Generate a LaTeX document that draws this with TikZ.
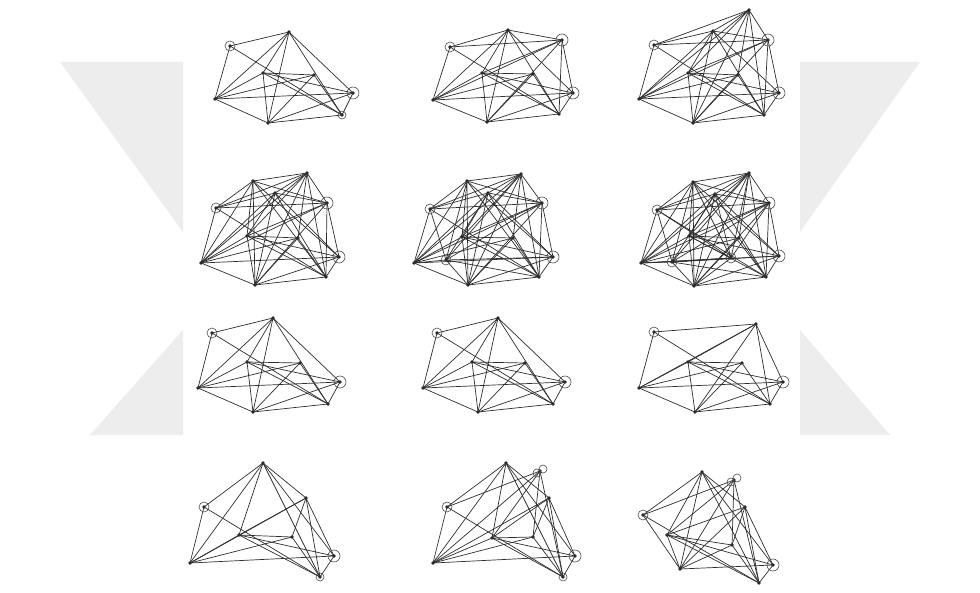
\documentclass[tikz,border=0pt]{standalone}
\begin{document}
\newcommand\EdgBase{A/B,A/F,A/H,B/F,B/C,B/G,B/E,B/H,C/D,C/E,C/G,C/H,F/C,F/D,F/E,F/G,G/D,G/E,G/H,E/H,D/H}
\newcommand\EdgP{A/P,B/P,P/F,P/G,P/E,P/H,P/C}
\newcommand\EdgJ{J/A,J/B,J/P,J/C,J/F,J/G,J/D,J/H}
\newcommand\EdgL{L/A,L/J,L/P,L/F,L/G,L/E,L/H,L/C}
\newcommand\EdgM{M/A,M/B,M/J,M/E,M/P,M/F,M/H,M/G,M/L}
\newcommand\EdgN{N/A,N/B,N/J,N/C,N/F,N/G,N/P,N/M,N/L}
\newcommand\EdgX{X/C,X/F,X/D,X/H,X/A}
\newcommand\drawedges[2]{\foreach \u/\v in #2 {\draw[edge] (#1\u.center) -- (#1\v.center);}}
\begin{tikzpicture}[x=1pt,y=-1pt,
  dot/.style={circle,fill=black!85,inner sep=0pt,minimum size=3.6pt},
  edge/.style={black!82,line width=0.7pt},
  ring/.style={black!70,line width=0.6pt}]
\useasboundingbox (0,0) rectangle (980,593);
\fill[white] (0,0) rectangle (980,593);
% watermark
\begin{scope}
\clip (0,0) rectangle (183,593) (800,0) rectangle (980,593);
\fill[black!7] (60,62) -- (183,62) -- (183,232) -- cycle;
\fill[black!7] (90,435) -- (183,435) -- (183,330) -- cycle;
\fill[black!7] (920,62) -- (800,62) -- (800,232) -- cycle;
\fill[black!7] (890,435) -- (800,435) -- (800,330) -- cycle;
\end{scope}
% ---- panel 1
\foreach \n/\x/\y in {A/230/46,B/289/32,C/263/73,D/314/75,E/353/93,F/215/99,G/268/123,H/342/115}
  \node[dot] (a\n) at (\x,\y) {};
\drawedges{a}{\EdgBase}
\foreach \n/\r in {A/5,E/6,H/4} \draw[ring] (a\n) circle (\r);
% ---- panel 2
\foreach \n/\x/\y in {A/450/47,B/508/30,P/562/40,C/482/73,D/533/74,E/573/93,F/433/100,G/487/122,H/559/114}
  \node[dot] (b\n) at (\x,\y) {};
\drawedges{b}{\EdgBase}\drawedges{b}{\EdgP}
\foreach \n/\r in {A/5,P/6,E/6} \draw[ring] (b\n) circle (\r);
% ---- panel 3
\foreach \n/\x/\y in {J/749/10,B/713/31,A/654/45,P/768/40,C/688/73,D/738/75,E/779/93,F/639/99,G/693/123,H/764/115}
  \node[dot] (c\n) at (\x,\y) {};
\drawedges{c}{\EdgBase}\drawedges{c}{\EdgP}\drawedges{c}{\EdgJ}
\foreach \n/\r in {A/5,P/6,E/6} \draw[ring] (c\n) circle (\r);
% ---- panel 4
\foreach \n/\x/\y in {J/307/173,B/253/181,L/275/193,A/216/208,P/327/203,C/247/236,D/298/238,E/339/257,F/201/263,G/255/285,H/326/277}
  \node[dot] (d\n) at (\x,\y) {};
\drawedges{d}{\EdgBase}\drawedges{d}{\EdgP}\drawedges{d}{\EdgJ}\drawedges{d}{\EdgL}
\foreach \n/\r in {A/5,P/6,E/6} \draw[ring] (d\n) circle (\r);
% ---- panel 5
\foreach \n/\x/\y in {J/521/174,B/467/181,L/488/193,A/430/209,P/542/203,C/462/237,D/513/238,M/446/260,E/553/257,F/414/263,G/468/285,H/539/277}
  \node[dot] (e\n) at (\x,\y) {};
\drawedges{e}{\EdgBase}\drawedges{e}{\EdgP}\drawedges{e}{\EdgJ}\drawedges{e}{\EdgL}\drawedges{e}{\EdgM}
\foreach \n/\r in {A/5,P/6,E/6,M/5} \draw[ring] (e\n) circle (\r);
% ---- panel 6
\foreach \n/\x/\y in {J/749/173,B/693/182,L/715/194,A/657/210,P/769/203,C/689/236,D/739/238,M/672/262,N/731/258,E/779/256,F/641/263,G/694/286,H/766/277}
  \node[dot] (f\n) at (\x,\y) {};
\drawedges{f}{\EdgBase}\drawedges{f}{\EdgP}\drawedges{f}{\EdgJ}\drawedges{f}{\EdgL}\drawedges{f}{\EdgM}\drawedges{f}{\EdgN}
\foreach \n/\r in {A/5,P/6,E/6,M/5,N/5} \draw[ring] (f\n) circle (\r);
% ---- panel 7
\foreach \n/\x/\y in {A/212/333,B/273/318,C/247/362,D/300/363,E/340/382,F/198/388,G/253/412,H/328/404}
  \node[dot] (g\n) at (\x,\y) {};
\drawedges{g}{\EdgBase}
\foreach \n/\r in {A/5,E/6} \draw[ring] (g\n) circle (\r);
% ---- panel 8
\foreach \n/\x/\y in {A/437/333,B/498/318,C/472/362,D/525/363,E/565/382,F/423/388,G/478/412,H/553/404}
  \node[dot] (h\n) at (\x,\y) {};
\drawedges{h}{\EdgBase}
\foreach \n/\r in {A/5,E/6} \draw[ring] (h\n) circle (\r);
% ---- panel 9
\foreach \n/\x/\y in {A/654/332,B/756/324,C/688/362,D/742/363,E/783/382,F/639/388,G/695/412,H/770/404}
  \node[dot] (i\n) at (\x,\y) {};
\drawedges{i}{\EdgBase}
\foreach \n/\r in {A/5,E/6} \draw[ring] (i\n) circle (\r);
% ---- panel 10
\foreach \n/\x/\y in {B/263/463,A/204/507,G/306/498,C/239/535,D/292/537,E/334/556,F/190/563,H/320/577}
  \node[dot] (j\n) at (\x,\y) {};
\drawedges{j}{\EdgBase}
\foreach \n/\r in {A/5,E/6,H/4} \draw[ring] (j\n) circle (\r);
% ---- panel 11
\foreach \n/\x/\y in {B/506/463,X/540/471,A/447/507,G/549/498,C/492/538,D/533/537,E/575/556,F/433/563,H/563/577}
  \node[dot] (k\n) at (\x,\y) {};
\drawedges{k}{\EdgBase}\drawedges{k}{\EdgX}
\foreach \n/\r in {A/5,E/6,H/4} \draw[ring] (k\n) circle (\r);
\draw[ring] (kX) ++(-3,2) circle (4) (kX) ++(3,-2) circle (4);
% ---- panel 12
\foreach \n/\x/\y in {B/702/472,X/734/480,A/643/515,G/745/507,C/667/535,D/732/545,E/773/565,F/680/569,H/759/583}
  \node[dot] (l\n) at (\x,\y) {};
\drawedges{l}{\EdgBase}\drawedges{l}{\EdgX}
\foreach \n/\r in {A/5,E/6} \draw[ring] (l\n) circle (\r);
\draw[ring] (lX) ++(-3,2) circle (4) (lX) ++(3,-2) circle (4);
\end{tikzpicture}
\end{document}
